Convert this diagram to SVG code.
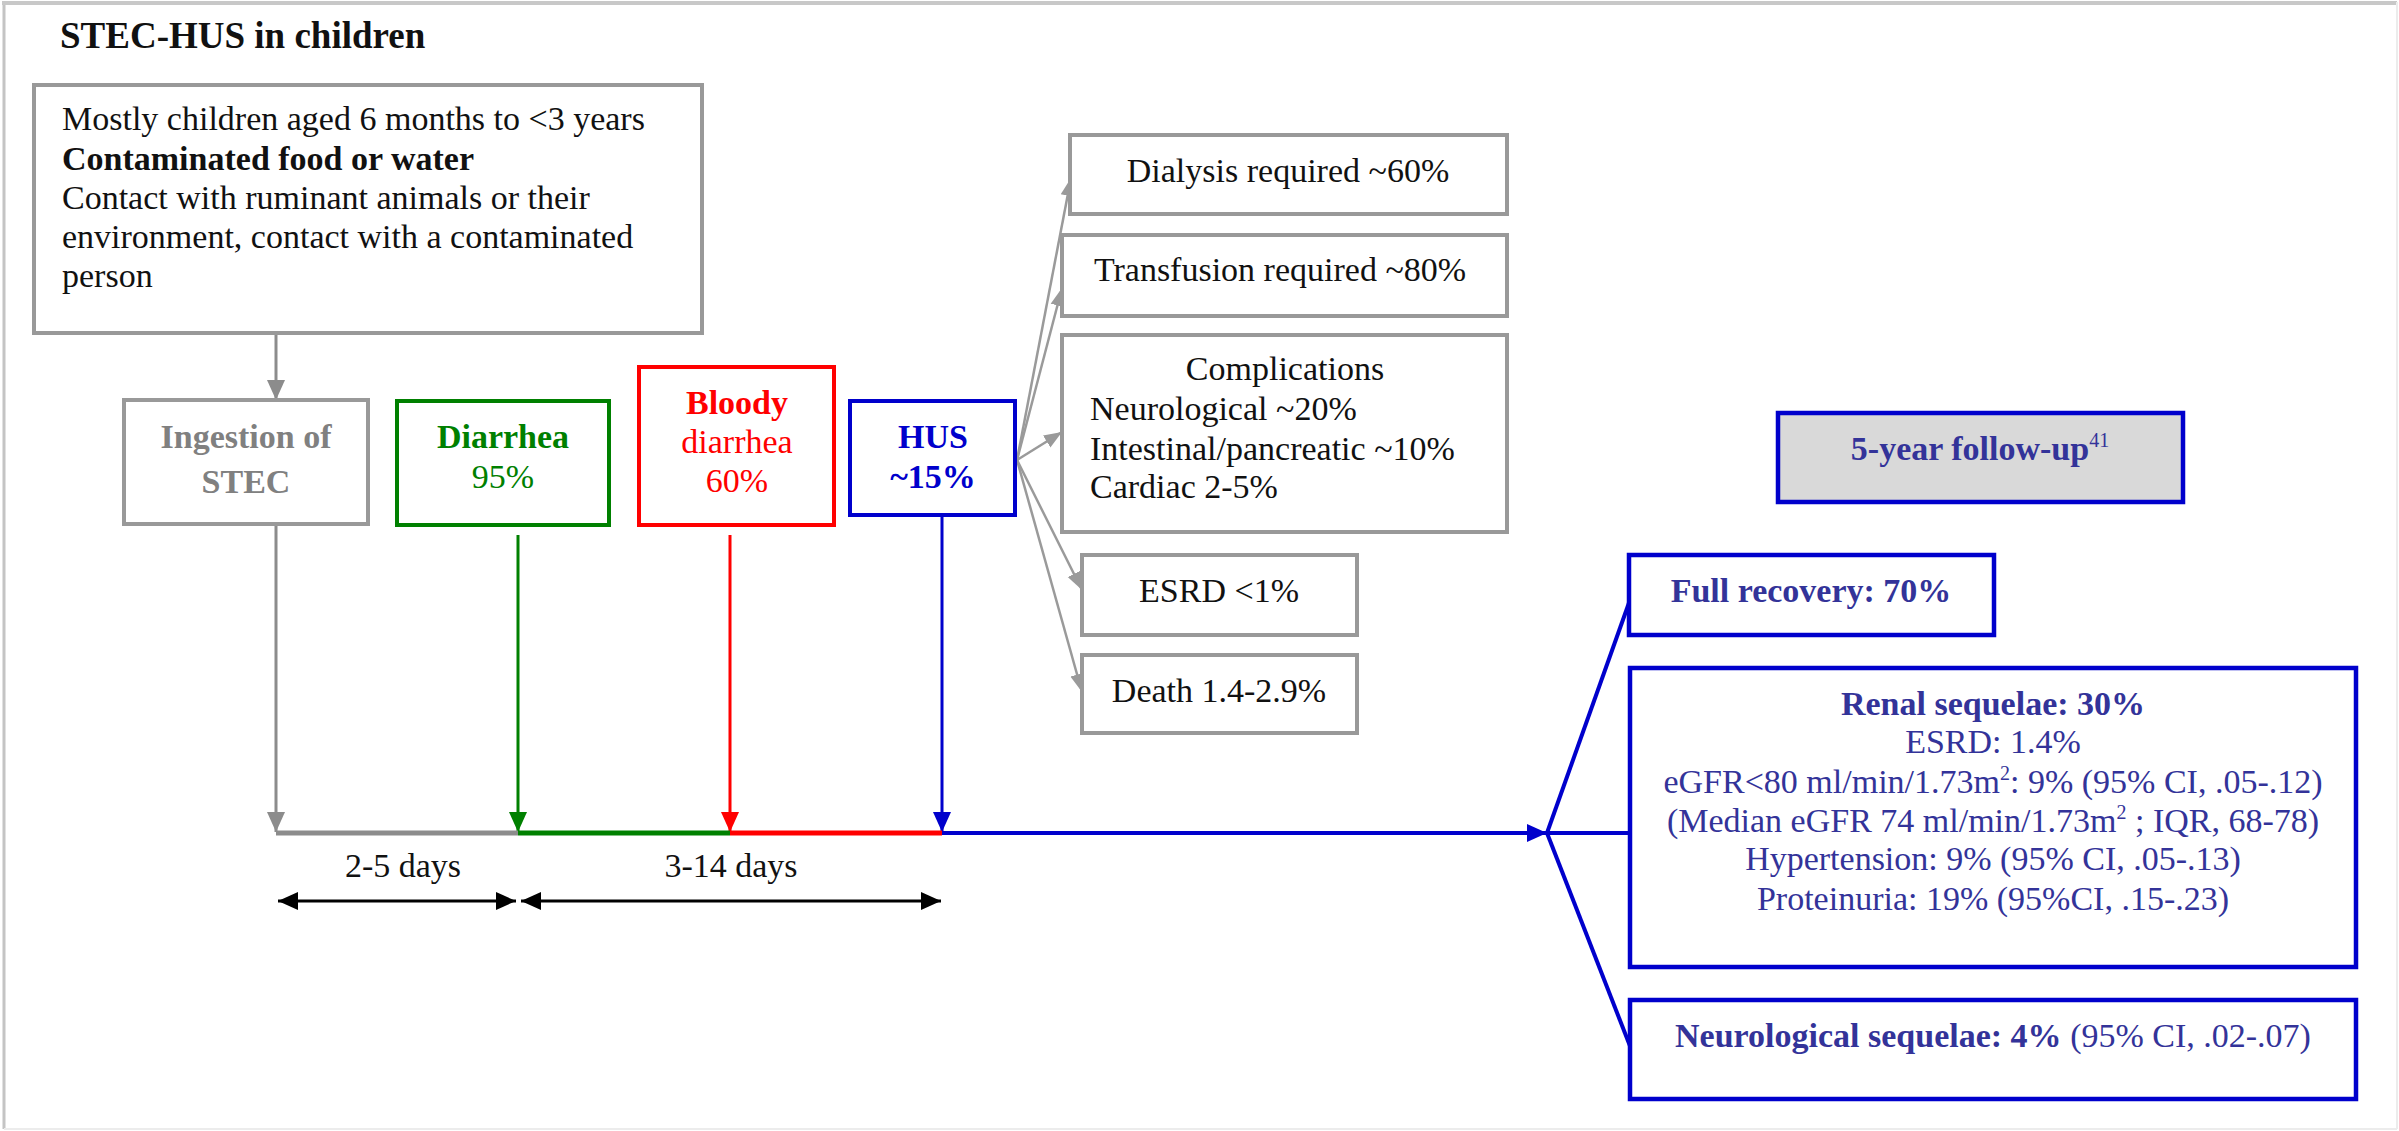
<svg xmlns="http://www.w3.org/2000/svg" width="2399" height="1131" viewBox="0 0 2399 1131">
<style>
text{font-family:"Liberation Serif","Times New Roman",serif;font-size:34px;fill:#111}
.b{font-weight:bold}
.c{text-anchor:middle}
.gbox{fill:#fff;stroke:#999;stroke-width:4}
.gray{fill:#808080}
.green{fill:#008000}
.red{fill:#ff0000}
.blue{fill:#0000cc}
.dblue{fill:#333399}
.bbox{fill:#fff;stroke:#0000cc;stroke-width:4.5}
</style>
<defs>
<marker id="ag" viewBox="0 0 20 20" refX="20" refY="10" markerWidth="20" markerHeight="20" orient="auto" markerUnits="userSpaceOnUse"><path d="M0,1 L20,10 L0,19 z" fill="#8c8c8c"/></marker>
<marker id="agf" viewBox="0 0 18 16" refX="18" refY="8" markerWidth="18" markerHeight="16" orient="auto" markerUnits="userSpaceOnUse"><path d="M0,1 L18,8 L0,15 z" fill="#9a9a9a"/></marker>
<marker id="agr" viewBox="0 0 20 20" refX="20" refY="10" markerWidth="20" markerHeight="20" orient="auto" markerUnits="userSpaceOnUse"><path d="M0,1 L20,10 L0,19 z" fill="#008000"/></marker>
<marker id="ard" viewBox="0 0 20 20" refX="20" refY="10" markerWidth="20" markerHeight="20" orient="auto" markerUnits="userSpaceOnUse"><path d="M0,1 L20,10 L0,19 z" fill="#ff0000"/></marker>
<marker id="abl" viewBox="0 0 20 20" refX="20" refY="10" markerWidth="20" markerHeight="20" orient="auto" markerUnits="userSpaceOnUse"><path d="M0,1 L20,10 L0,19 z" fill="#0000cc"/></marker>
<marker id="ak" viewBox="0 0 20 20" refX="20" refY="10" markerWidth="20" markerHeight="20" orient="auto-start-reverse" markerUnits="userSpaceOnUse"><path d="M0,1 L20,10 L0,19 z" fill="#000"/></marker>
</defs>
<rect width="2399" height="1131" fill="#fff"/>
<g id="frame">
<line x1="4" y1="2" x2="4" y2="1129" stroke="#c4c4c4" stroke-width="3"/>
<line x1="2" y1="3" x2="2397" y2="3" stroke="#c8c8c8" stroke-width="4"/>
<line x1="2397" y1="2" x2="2397" y2="1129" stroke="#ececec" stroke-width="2"/>
<line x1="4" y1="1129" x2="2397" y2="1129" stroke="#ececec" stroke-width="2"/>
</g>
<text id="title" class="b" x="60" y="48" style="font-size:37px">STEC-HUS in children</text>

<g id="connectors" fill="none">
<line x1="276" y1="333" x2="276" y2="400" stroke="#8c8c8c" stroke-width="3" marker-end="url(#ag)"/>
<line x1="276" y1="524" x2="276" y2="832" stroke="#8c8c8c" stroke-width="3" marker-end="url(#ag)"/>
<line x1="518" y1="535" x2="518" y2="832" stroke="#008000" stroke-width="3" marker-end="url(#agr)"/>
<line x1="730" y1="535" x2="730" y2="832" stroke="#ff0000" stroke-width="3" marker-end="url(#ard)"/>
<line x1="942" y1="515" x2="942" y2="832" stroke="#0000cc" stroke-width="3" marker-end="url(#abl)"/>
<line x1="276" y1="833" x2="518" y2="833" stroke="#8c8c8c" stroke-width="5"/>
<line x1="518" y1="833" x2="730" y2="833" stroke="#008000" stroke-width="5"/>
<line x1="730" y1="833" x2="942" y2="833" stroke="#ff0000" stroke-width="5"/>
<line x1="942" y1="833" x2="1547" y2="833" stroke="#0000cc" stroke-width="4" marker-end="url(#abl)"/>
<line x1="278" y1="901" x2="516" y2="901" stroke="#000" stroke-width="3" marker-start="url(#ak)" marker-end="url(#ak)"/>
<line x1="521" y1="901" x2="941" y2="901" stroke="#000" stroke-width="3" marker-start="url(#ak)" marker-end="url(#ak)"/>
<g stroke="#9a9a9a" stroke-width="2.5">
<line x1="1017" y1="460" x2="1071" y2="178" marker-end="url(#agf)"/>
<line x1="1017" y1="460" x2="1062" y2="288" marker-end="url(#agf)"/>
<line x1="1017" y1="460" x2="1062" y2="432" marker-end="url(#agf)"/>
<line x1="1017" y1="460" x2="1082" y2="590" marker-end="url(#agf)"/>
<line x1="1017" y1="460" x2="1082" y2="692" marker-end="url(#agf)"/>
</g>
<g stroke="#0000cc" stroke-width="4">
<line x1="1547" y1="833" x2="1630" y2="600"/>
<line x1="1547" y1="833" x2="1630" y2="833"/>
<line x1="1547" y1="833" x2="1630" y2="1046"/>
</g>
</g>

<g id="n-source">
<rect class="gbox" x="34" y="85" width="668" height="248"/>
<text x="62" y="130">Mostly children aged 6 months to &lt;3 years</text>
<text class="b" x="62" y="170">Contaminated food or water</text>
<text x="62" y="209">Contact with ruminant animals or their</text>
<text x="62" y="248">environment, contact with a contaminated</text>
<text x="62" y="287">person</text>
</g>
<g id="n-ingestion">
<rect class="gbox" x="124" y="400" width="244" height="124"/>
<text class="b c gray" x="246" y="448">Ingestion of</text>
<text class="b c gray" x="246" y="493">STEC</text>
</g>
<g id="n-diarrhea">
<rect x="397" y="401" width="212" height="124" fill="#fff" stroke="#008000" stroke-width="4"/>
<text class="b c green" x="503" y="448">Diarrhea</text>
<text class="c green" x="503" y="488">95%</text>
</g>
<g id="n-bloody">
<rect x="639" y="367" width="195" height="158" fill="#fff" stroke="#ff0000" stroke-width="4"/>
<text class="b c red" x="737" y="414">Bloody</text>
<text class="c red" x="737" y="453">diarrhea</text>
<text class="c red" x="737" y="492">60%</text>
</g>
<g id="n-hus">
<rect x="850" y="401" width="165" height="114" fill="#fff" stroke="#0000cc" stroke-width="4"/>
<text class="b c blue" x="933" y="448">HUS</text>
<text class="b c blue" x="933" y="488">~15%</text>
</g>
<g id="n-dialysis">
<rect class="gbox" x="1070" y="135" width="437" height="79"/>
<text class="c" x="1288" y="182">Dialysis required ~60%</text>
</g>
<g id="n-transfusion">
<rect class="gbox" x="1062" y="235" width="445" height="81"/>
<text class="c" x="1280" y="281">Transfusion required ~80%</text>
</g>
<g id="n-complications">
<rect class="gbox" x="1062" y="335" width="445" height="197"/>
<text class="c" x="1285" y="380">Complications</text>
<text x="1090" y="420">Neurological ~20%</text>
<text x="1090" y="460">Intestinal/pancreatic ~10%</text>
<text x="1090" y="498">Cardiac 2-5%</text>
</g>
<g id="n-esrd">
<rect class="gbox" x="1082" y="555" width="275" height="80"/>
<text class="c" x="1219" y="602">ESRD &lt;1%</text>
</g>
<g id="n-death">
<rect class="gbox" x="1082" y="655" width="275" height="78"/>
<text class="c" x="1219" y="702">Death 1.4-2.9%</text>
</g>
<g id="labels">
<text class="c" x="403" y="877">2-5 days</text>
<text class="c" x="731" y="877">3-14 days</text>
</g>
<g id="n-followup">
<rect x="1778" y="413" width="405" height="89" fill="#d9d9d9" stroke="#0000cc" stroke-width="4.5"/>
<text class="b c dblue" x="1980" y="460">5-year follow-up<tspan dy="-13" style="font-size:20px;font-weight:normal">41</tspan></text>
</g>
<g id="n-full">
<rect class="bbox" x="1629" y="555" width="365" height="80"/>
<text class="b c dblue" x="1811" y="602">Full recovery: 70%</text>
</g>
<g id="n-renal">
<rect class="bbox" x="1630" y="668" width="726" height="299"/>
<text class="b c dblue" x="1993" y="715">Renal sequelae: 30%</text>
<text class="c dblue" x="1993" y="753">ESRD: 1.4%</text>
<text class="c dblue" x="1993" y="793">eGFR&lt;80 ml/min/1.73m<tspan dy="-13" style="font-size:20px">2</tspan><tspan dy="13">: 9% (95% CI, .05-.12)</tspan></text>
<text class="c dblue" x="1993" y="832">(Median eGFR 74 ml/min/1.73m<tspan dy="-13" style="font-size:20px">2</tspan><tspan dy="13"> ; IQR, 68-78)</tspan></text>
<text class="c dblue" x="1993" y="870">Hypertension: 9% (95% CI, .05-.13)</text>
<text class="c dblue" x="1993" y="910">Proteinuria: 19% (95%CI, .15-.23)</text>
</g>
<g id="n-neuro">
<rect class="bbox" x="1630" y="1000" width="726" height="99"/>
<text class="c dblue" x="1993" y="1047"><tspan class="b">Neurological sequelae: 4%</tspan> (95% CI, .02-.07)</text>
</g>
</svg>
